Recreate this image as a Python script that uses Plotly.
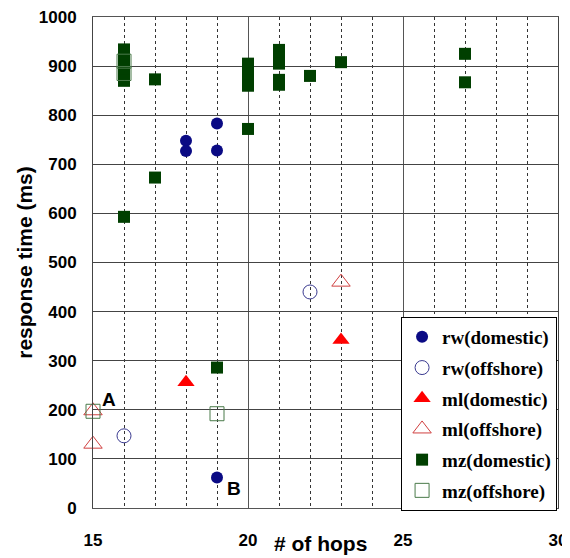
import plotly.graph_objects as go

# ---- data ----
rw_dom_x = [18, 18, 19, 19, 19]
rw_dom_y = [748, 727, 783, 728, 62]
rw_off_x = [16, 22]
rw_off_y = [147, 440]
ml_dom_x = [18, 23]
ml_dom_y = [256, 342]
ml_off_x = [15, 15, 23]
ml_off_y = [198, 130, 460]
mz_dom_x = [16, 16, 16, 16, 16, 16, 16, 17, 17, 19, 20, 20, 20, 20, 20, 21, 21, 21, 21, 21, 22, 23, 27, 27]
mz_dom_y = [934, 918, 902, 890, 880, 870, 593, 873, 673, 286, 905, 885, 870, 860, 772, 933, 918, 905, 872, 862, 880, 908, 925, 867]
mz_off_x = [15, 19, 16, 16]
mz_off_y = [197, 192, 910, 885]

x_ticks = [15, 20, 25, 30]
y_ticks = [0, 100, 200, 300, 400, 500, 600, 700, 800, 900, 1000]

fig = go.Figure()

def add(name, xs, ys, symbol, size, color, line_color, line_width):
    fig.add_trace(go.Scatter(
        x=xs, y=ys, mode="markers", name="<b>" + name + "</b>", legendgroup=name,
        cliponaxis=False,
        marker=dict(symbol=symbol, size=size, color=color,
                    line=dict(color=line_color, width=line_width)),
    ))

add("rw(domestic)", rw_dom_x, rw_dom_y, "circle", 12, "#0a0a84", "#0a0a84", 0)
add("rw(offshore)", rw_off_x, rw_off_y, "circle-open", 14, "#3a3a90", "#3a3a90", 1)
add("ml(domestic)", ml_dom_x, ml_dom_y, "triangle-up", 15, "#ff0000", "#ff0000", 0)
add("ml(offshore)", ml_off_x, ml_off_y, "triangle-up-open", 16, "#d04040", "#d04040", 1)
add("mz(domestic)", mz_dom_x, mz_dom_y, "square", 12, "#003f00", "#003f00", 0)
add("mz(offshore)", mz_off_x, mz_off_y, "square-open", 14, "#4a7a4a", "#4a7a4a", 1)

# point labels A and B, anchored on data points
fig.add_annotation(x=ml_off_x[0], y=ml_off_y[0], text="<b>A</b>", showarrow=False,
                   xshift=16, yshift=11, font=dict(family="Liberation Sans", size=19, color="black"))
fig.add_annotation(x=rw_dom_x[4], y=rw_dom_y[4], text="<b>B</b>", showarrow=False,
                   xshift=17, yshift=-11, font=dict(family="Liberation Sans", size=19, color="black"))

fig.add_annotation(xref="paper", yref="paper", x=0.49, y=-0.073, yanchor="middle",
                   text="<b># of hops</b>", showarrow=False,
                   font=dict(family="Liberation Sans", size=21, color="black"))

tickfont = dict(family="Liberation Sans", size=17, color="black", weight="bold")

fig.update_xaxes(
    range=[15, 30], tickvals=x_ticks, ticktext=[str(v) for v in x_ticks],
    showgrid=True, gridcolor="#555555", gridwidth=1,
    showline=True, linecolor="#555555", linewidth=1, mirror=True,
    ticks="", tickfont=tickfont, ticklabelstandoff=17, zeroline=False,
    automargin=False, ticklabeloverflow="allow",
    minor=dict(dtick=1, tick0=15, showgrid=True, griddash="dot", gridcolor="#333333", gridwidth=1),
)
fig.update_yaxes(
    range=[0, 1000], tickvals=y_ticks,
    showgrid=True, gridcolor="#444444", gridwidth=1,
    showline=True, linecolor="#444444", linewidth=1, mirror=True,
    ticks="", tickfont=tickfont, ticklabelstandoff=12, zeroline=False,
    automargin=False, ticklabeloverflow="allow",
    title=dict(text="<b>response time (ms)</b>", standoff=0,
               font=dict(family="Liberation Sans", size=21, color="black")),
)

# the page body adds an 8px offset; size the figure to end at the window edge
fig.update_layout(
    width=562, height=550,
    margin=dict(l=85, r=12, t=9, b=50),
    paper_bgcolor="white", plot_bgcolor="white",
    showlegend=True,
    legend=dict(x=0.998, y=0.389, xanchor="right", yanchor="top",
                bgcolor="white", bordercolor="black", borderwidth=1,
                font=dict(family="Liberation Serif", size=19, color="black"),
                tracegroupgap=3, itemwidth=30),
)

fig.write_html("out.html")
